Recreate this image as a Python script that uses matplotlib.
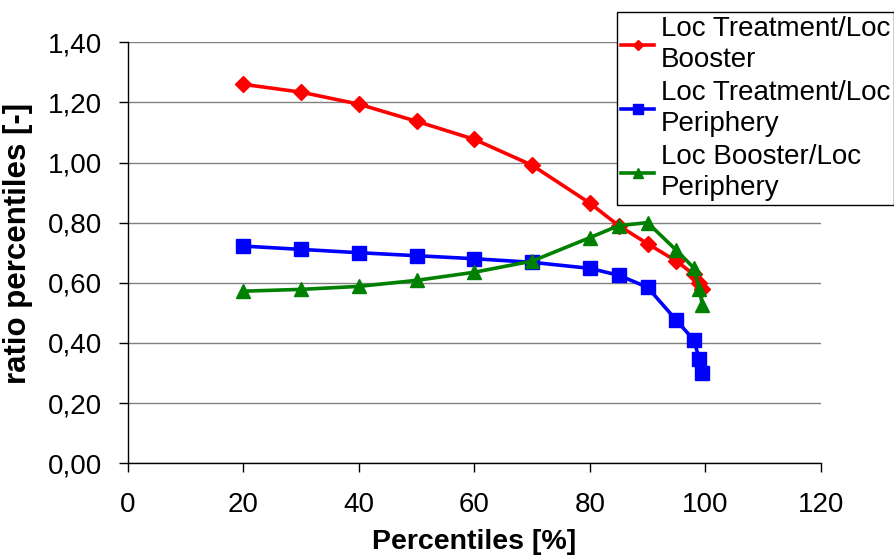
import matplotlib
matplotlib.use("Agg")
import matplotlib.pyplot as plt
from matplotlib.ticker import FuncFormatter

plt.rcParams['font.family'] = ['Liberation Sans', 'DejaVu Sans']

percentiles = [20, 30, 40, 50, 60, 70, 80, 85, 90, 95, 98, 99, 99.5]
treat_booster = [1.260, 1.234, 1.194, 1.137, 1.077, 0.991, 0.865, 0.79, 0.73, 0.672, 0.628, 0.60, 0.58]
treat_periphery = [0.722, 0.711, 0.70, 0.69, 0.68, 0.668, 0.648, 0.625, 0.585, 0.475, 0.41, 0.345, 0.30]
booster_periphery = [0.572, 0.578, 0.588, 0.608, 0.635, 0.672, 0.75, 0.79, 0.80, 0.708, 0.65, 0.578, 0.525]

labels = ["Loc Treatment/Loc\nBooster", "Loc Treatment/Loc\nPeriphery", "Loc Booster/Loc\nPeriphery"]

fig = plt.figure(figsize=(8.95, 5.56), dpi=100)
ax = fig.add_axes([0.143, 0.167, 0.774, 0.757])

ax.plot(percentiles, treat_booster, color='#ff0000', lw=2.6, marker='D', ms=8, label=labels[0])
ax.plot(percentiles, treat_periphery, color='#0000ff', lw=2.6, marker='s', ms=9.5, label=labels[1])
ax.plot(percentiles, booster_periphery, color='#008000', lw=2.6, marker='^', ms=10.5, label=labels[2])

ax.set_xlim(0, 120)
ax.set_ylim(0, 1.4)
ax.set_xticks(range(0, 121, 20))
ax.set_yticks([i * 0.2 for i in range(8)])
ax.yaxis.set_major_formatter(FuncFormatter(lambda v, p: f"{v:.2f}".replace('.', ',')))
ax.grid(axis='y', color='#808080', lw=1)
ax.set_axisbelow(True)
for s in ['top', 'right']:
    ax.spines[s].set_visible(False)
ax.spines['left'].set_linewidth(1)
ax.spines['bottom'].set_linewidth(1)
ax.tick_params(axis='both', labelsize=20, direction='out', length=6.5, width=1)
ax.tick_params(axis='x', pad=14)
ax.tick_params(axis='y', pad=12)

ax.set_xlabel("Percentiles [%]", fontsize=20.5, fontweight='bold', labelpad=8)
ax.set_ylabel("ratio percentiles [-]", fontsize=22.5, fontweight='bold')
ax.yaxis.set_label_coords(-0.137, 0.521)

leg = fig.legend(loc='upper left', bbox_to_anchor=(617/895, 1 - 12/556), fontsize=20,
                 frameon=True, fancybox=False, edgecolor='black', framealpha=1,
                 handlelength=1.2, handletextpad=0.22, borderpad=0.15, labelspacing=0.25,
                 borderaxespad=0, markerscale=0.7)
leg.get_frame().set_linewidth(1)
for t in leg.get_texts():
    t.set_linespacing(1.25)

fig.savefig("out.png", dpi=100)
